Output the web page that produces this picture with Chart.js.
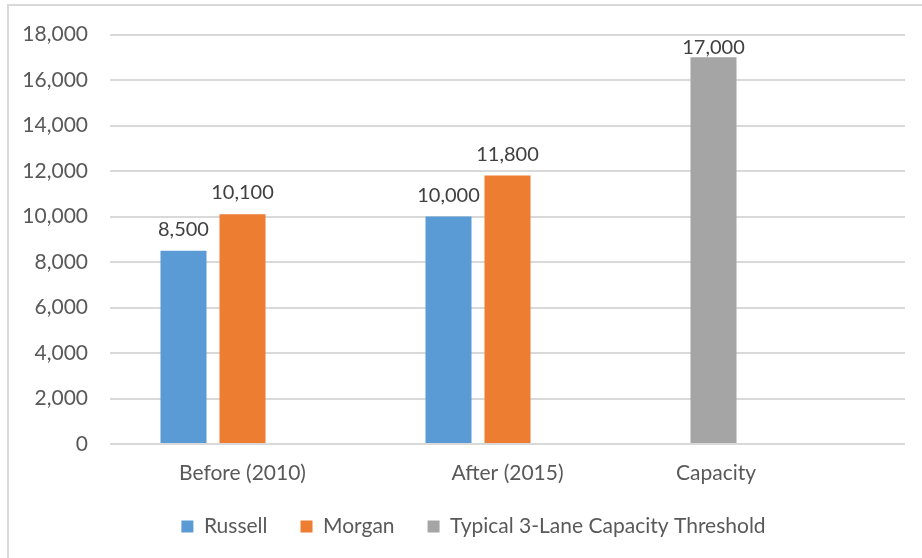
<!DOCTYPE html>
<html>
<head>
<meta charset="utf-8">
<script src="https://cdn.jsdelivr.net/npm/chart.js@4.4.1/dist/chart.umd.min.js"></script>
<style>
  html, body { margin: 0; padding: 0; background: #fff; }
  #wrap { width: 922px; height: 558px; position: relative; }
</style>
</head>
<body>
<div id="wrap"><canvas id="chart" width="922" height="558"></canvas></div>
<script>
// chart data
const categories = ["Before (2010)", "After (2015)", "Capacity"];
const russell = [8500, 10000, null];
const morgan = [10100, 11800, null];
const threshold = [null, null, 17000];
const yTicks = [0, 2000, 4000, 6000, 8000, 10000, 12000, 14000, 16000, 18000];

const FONT = "Lato, 'Open Sans', sans-serif";

// the last category label sits under its bar, not centred in the category
// (the original pads it with trailing spaces) -> work out how many
const measure = document.createElement("canvas").getContext("2d");
measure.font = "21px " + FONT;
const spaceW = measure.measureText(" ").width || 5;
const capPad = " ".repeat(Math.round(114 / spaceW));

// frame lines (top + left) like the Excel chart border
const framePlugin = {
    id: "frame",
    beforeDraw(chart) {
        const ctx = chart.ctx;
        ctx.save();
        ctx.fillStyle = "#d9d9d9";
        ctx.fillRect(7, 4, 915, 2);
        ctx.fillRect(7, 4, 2, 554);
        ctx.restore();
    },
};

// legend in the original is centred a bit right of the canvas middle
// and sits a little closer to the axis labels
const legendShift = {
    id: "legendShift",
    afterLayout(chart) {
        const lg = chart.legend;
        if (!lg) return;
        lg.left = 42;
        lg.top = chart.scales.x.bottom - 5;
    },
};

// value labels above the bars
const valueLabels = {
    id: "valueLabels",
    afterDatasetsDraw(chart) {
        const ctx = chart.ctx;
        const top = chart.chartArea.top;
        ctx.save();
        ctx.font = "20px " + FONT;
        ctx.fillStyle = "#404040";
        ctx.textAlign = "center";
        ctx.textBaseline = "alphabetic";
        chart.data.datasets.forEach((ds, i) => {
            const meta = chart.getDatasetMeta(i);
            meta.data.forEach((bar, j) => {
                const v = ds.data[j];
                if (v === null || v === undefined) return;
                const y = Math.max(bar.y - 15, top + 19);
                ctx.fillText(v.toLocaleString("en-US"), bar.x, y);
            });
        });
        ctx.restore();
    },
};

const ctx = document.getElementById("chart").getContext("2d");

new Chart(ctx, {
    type: "bar",
    data: {
        labels: categories,
        datasets: [
            { label: "Russell", data: russell, backgroundColor: "#5b9bd5", stack: "a" },
            { label: "Morgan", data: morgan, backgroundColor: "#ed7d31", stack: "b" },
            { label: "Typical 3-Lane Capacity Threshold", data: threshold, backgroundColor: "#a5a5a5", stack: "a" },
            // empty third slot in each category
            { label: "", data: [null, null, null], backgroundColor: "rgba(0,0,0,0)", stack: "c" },
        ],
    },
    options: {
        responsive: false,
        animation: false,
        barPercentage: 0.78,
        categoryPercentage: 0.668,
        layout: { padding: { top: 33, right: 17, bottom: 6, left: 0 } },
        plugins: {
            legend: {
                position: "bottom",
                labels: {
                    boxWidth: 12,
                    boxHeight: 12,
                    padding: 33,
                    color: "#595959",
                    font: { family: FONT, size: 21 },
                    filter: (item) => item.text !== "",
                },
            },
            tooltip: { enabled: false },
        },
        scales: {
            x: {
                grid: { display: false, drawTicks: false },
                border: { display: false },
                ticks: {
                    color: "#595959",
                    font: { family: FONT, size: 21 },
                    padding: 17,
                    callback: (v, i) => (i === 2 ? categories[i] + capPad : categories[i]),
                },
                afterFit(scale) { scale.height = 44; },
            },
            y: {
                min: 0,
                max: 18000,
                grid: { color: "#d9d9d9", lineWidth: 2, drawTicks: false },
                border: { display: false },
                afterBuildTicks(scale) { scale.ticks = yTicks.map((v) => ({ value: v })); },
                ticks: {
                    color: "#595959",
                    font: { family: FONT, size: 21 },
                    padding: 22,
                    callback: (v) => v.toLocaleString("en-US"),
                },
                afterFit(scale) { scale.width = 110; },
            },
        },
    },
    plugins: [framePlugin, legendShift, valueLabels],
});
</script>
</body>
</html>
